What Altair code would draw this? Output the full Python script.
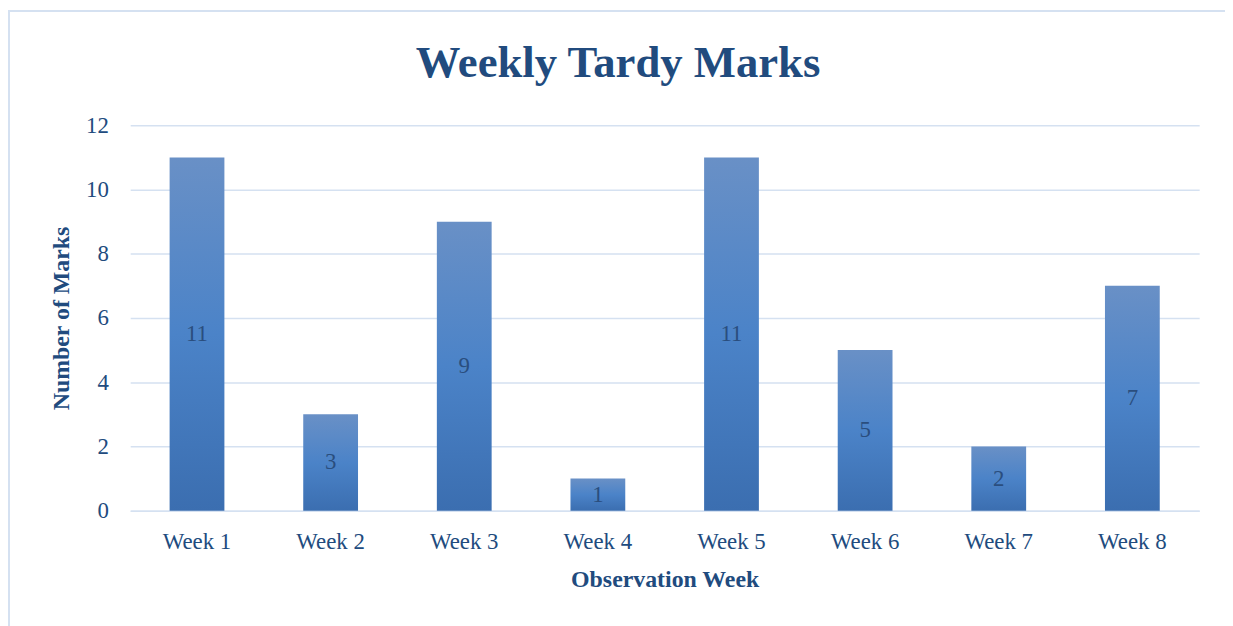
import altair as alt
import pandas as pd

weeks = ["Week 1", "Week 2", "Week 3", "Week 4", "Week 5", "Week 6", "Week 7", "Week 8"]
marks = [11, 3, 9, 1, 11, 5, 2, 7]

df = pd.DataFrame({"week": weeks, "marks": marks})

FONT = "Liberation Serif"
DARK = "#214b7e"

grad = alt.Gradient(
    gradient="linear",
    stops=[alt.GradientStop(color="#6990c6", offset=0),
           alt.GradientStop(color="#4b83c8", offset=0.5),
           alt.GradientStop(color="#3b6eb0", offset=1)],
    x1=0, x2=0, y1=0, y2=1,
)

frame = alt.Chart(df).mark_rect(fill="transparent", stroke="#d5e1f1", strokeWidth=2).encode(
    x=alt.value(-122), x2=alt.value(1210), y=alt.value(-115), y2=alt.value(600)
).transform_filter(alt.datum.week == "Week 1")

x_enc = alt.X("week:N", sort=weeks,
              scale=alt.Scale(paddingInner=0.59, paddingOuter=0.295),
              axis=alt.Axis(title="Observation Week", labelAngle=0, labelPadding=20,
                            titlePadding=14, ticks=False, domainColor="#d5e1f1",
                            domainWidth=1.5))
y_enc = alt.Y("marks:Q", scale=alt.Scale(domain=[0, 12]),
              axis=alt.Axis(title="Number of Marks", values=[0, 2, 4, 6, 8, 10, 12],
                            ticks=False, domain=False, labelPadding=22,
                            titlePadding=12, gridColor="#d5e1f1", gridWidth=1.5))

bars = alt.Chart(df).mark_bar(color=grad).encode(x=x_enc, y=y_enc)

labels = alt.Chart(df).transform_calculate(mid="datum.marks / 2").mark_text(
    font=FONT, fontSize=23, color="#2a4e7e", baseline="middle"
).encode(x=alt.X("week:N", sort=weeks), y=alt.Y("mid:Q"), text="marks:Q")

chart = alt.layer(frame, bars, labels).properties(
    width=1076, height=388,
    title=alt.Title("Weekly Tardy Marks", font=FONT, fontSize=45, fontWeight="bold",
                    color=DARK, anchor="middle", offset=-76, dx=-47),
    padding={"left": 123, "top": 116, "right": 26, "bottom": 114},
    autosize=alt.AutoSizeParams(type="none"),
).configure_axis(
    labelFont=FONT, labelFontSize=23, labelColor=DARK,
    titleFont=FONT, titleFontSize=24, titleColor=DARK, titleFontWeight="bold",
).configure_view(stroke=None)

chart.save("out.html", embed_options={"renderer": "svg", "actions": False})
